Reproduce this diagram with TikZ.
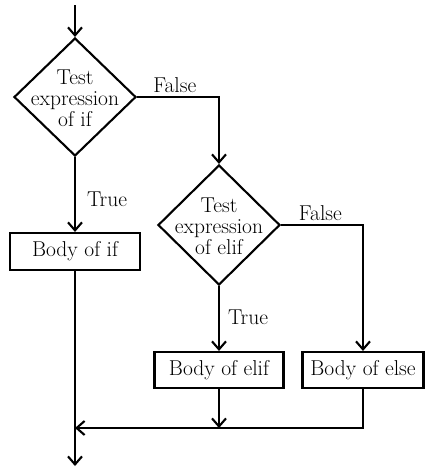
\documentclass[tikz,border=0pt]{standalone}
\usetikzlibrary{arrows.meta,shapes.geometric}
\begin{document}
\begin{tikzpicture}[x=1pt,y=-1pt,
  line width=2.1pt,
  font=\fontsize{21.5}{21}\selectfont,
  arr/.style={-{Straight Barb[length=8pt,width=14pt,line width=2.1pt]}},
  dia/.style={draw,diamond,inner sep=0pt,minimum width=#1,minimum height=118pt},
  box/.style={draw,rectangle,inner sep=0pt,minimum height=36pt},
  lbl/.style={inner sep=0pt,align=center}]
\useasboundingbox (0,0) rectangle (425,467);
\coordinate (start) at (75,5);
\node[dia=122pt] (d1) at (75,97) {};
\node[lbl] (t1) at (75,98) {Test\\expression\\of if};
\node[box,minimum width=130pt,minimum height=37pt] (b1) at (75,251.5) {Body of if};
\node[dia=122pt,minimum height=120pt] (d2) at (219,225) {};
\node[lbl] (t2) at (219,226) {Test\\expression\\of elif};
\node[box,minimum width=129pt] (b2) at (219,370) {Body of elif};
\node[box,minimum width=121pt] (b3) at (363,370) {Body of else};
\coordinate (j1) at (219,428);
\coordinate (j2) at (75,428);
\coordinate (end) at (75,466);

\draw[arr] (start) -- (d1.north);
\draw[arr] (d1.east) -| (d2.north) node[lbl,pos=0.23,above=3pt] (f1) {False};
\draw[arr] (d1.south) -- (b1.north) node[lbl,pos=0.57,right=11pt] (tr1) {True};
\draw[arr] (b1.south) -- (end);
\draw[arr] (d2.east) -| (b3.north) node[lbl,pos=0.24,above=3pt] (f2) {False};
\draw[arr] (d2.south) -- (b2.north) node[lbl,pos=0.48,right=8pt] (tr2) {True};
\draw[arr] (b2.south) -- (j1);
\draw[arr] (b3.south) |- (j2);
\end{tikzpicture}
\end{document}
